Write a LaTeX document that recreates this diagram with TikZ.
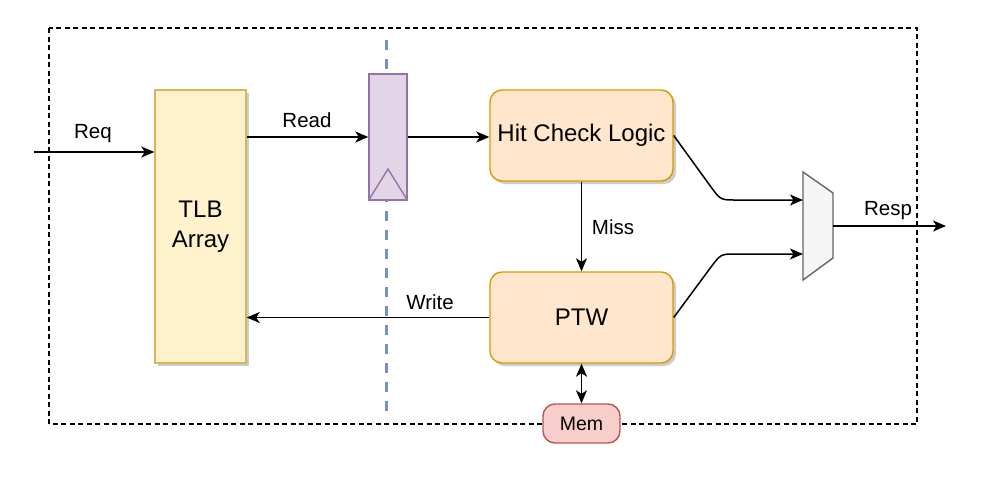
\documentclass[tikz,border=0pt]{standalone}
\usepackage{fontspec}
\setmainfont{Liberation Sans}
\usetikzlibrary{arrows.meta,shadows}
\definecolor{tlbfill}{HTML}{FFF2CC}
\definecolor{tlbdraw}{HTML}{D6B656}
\definecolor{regfill}{HTML}{E1D5E7}
\definecolor{regdraw}{HTML}{9673A6}
\definecolor{orfill}{HTML}{FFE6CC}
\definecolor{ordraw}{HTML}{D79B00}
\definecolor{memfill}{HTML}{F8CECC}
\definecolor{memdraw}{HTML}{B85450}
\definecolor{stagecol}{HTML}{7393C4}
\definecolor{muxfill}{HTML}{F5F5F5}
\definecolor{muxdraw}{HTML}{666666}
\begin{document}
\begin{tikzpicture}[x=1pt,y=-1pt,
  shad/.style={drop shadow={shadow xshift=3pt,shadow yshift=-3pt,fill=black!25,opacity=0.8}},
  blk/.style={draw,line width=1.4pt,inner sep=0pt,font=\fontsize{24}{30}\selectfont,align=center},
  tlbbox/.style={blk,fill=tlbfill,draw=tlbdraw,shad,minimum width=91pt,minimum height=273pt},
  regbox/.style={blk,fill=regfill,draw=regdraw,minimum width=38pt,minimum height=126pt},
  logicbox/.style={blk,fill=orfill,draw=ordraw,shad,rounded corners=12pt,minimum width=183pt,minimum height=91pt},
  membox/.style={blk,fill=memfill,draw=memdraw,rounded corners=12pt,minimum width=77pt,minimum height=39pt,font=\fontsize{19.5}{22}\selectfont},
  lbl/.style={font=\fontsize{20.5}{23}\selectfont,inner sep=0pt},
  arr/.style={line width=1.5pt,-{Stealth[length=13pt,width=11pt,inset=3.5pt]}},
  darr/.style={line width=1.5pt,{Stealth[length=13pt,width=11pt,inset=3.5pt]}-{Stealth[length=13pt,width=11pt,inset=3.5pt]}}
]
\useasboundingbox (0,0) rectangle (990,496);
% outer frame
\draw[line width=1.3pt,dash pattern=on 5pt off 3.5pt] (49,28) rectangle (917,424);
% pipeline stage line
\draw[stagecol,line width=3pt,dash pattern=on 10pt off 9pt] (386,40) -- (386,418);
% blocks
\node[tlbbox] (tlb) at (200.5,226.5) {TLB\\Array};
\node[regbox] (reg) at (388,137) {};
\draw[regdraw,line width=1.4pt] (reg.south west) -- (388,169) -- (reg.south east);
\node[logicbox] (hit) at (581.5,135.5) {Hit Check Logic};
\node[logicbox] (ptw) at (581.5,317.5) {PTW};
\node[membox] (mem) at (581.5,423.5) {Mem};
% mux
\coordinate (m1) at (803,172);
\coordinate (m2) at (833,193);
\coordinate (m3) at (833,258);
\coordinate (m4) at (803,280);
\draw[fill=muxfill,draw=muxdraw,line width=1.4pt] (m1) -- (m2) -- (m3) -- (m4) -- cycle;
\coordinate (muxin1) at (803,200);
\coordinate (muxin2) at (803,254);
\coordinate (muxout) at (833,226);
\coordinate (reqin) at (34,152);
\coordinate (respout) at (946,226);
% connectors
\draw[arr] (reqin) -- (tlb.west |- reqin);
\node[lbl] (reqlbl) at (93,134) {Req};
\draw[arr] (tlb.east |- reg.west) -- (reg.west);
\node[lbl] (readlbl) at (307,120) {Read};
\draw[arr] (reg.east) -- (reg.east -| hit.west);
\draw[arr] (hit.south) -- (ptw.north);
\node[lbl] (misslbl) at (613,227) {Miss};
\draw[arr] (ptw.west) -- (ptw.west -| tlb.east);
\node[lbl] (writelbl) at (430,302) {Write};
\draw[darr] (ptw.south) -- (mem.north);
\draw[arr] (hit.east) -- (711,187) .. controls (720.6,200) .. (736,200) -- (muxin1);
\draw[arr] (ptw.east) -- (711,267) .. controls (720.8,254) .. (736,254) -- (muxin2);
\draw[arr] (muxout) -- (respout);
\node[lbl] (resplbl) at (888,211) {Resp};
\end{tikzpicture}
\end{document}
